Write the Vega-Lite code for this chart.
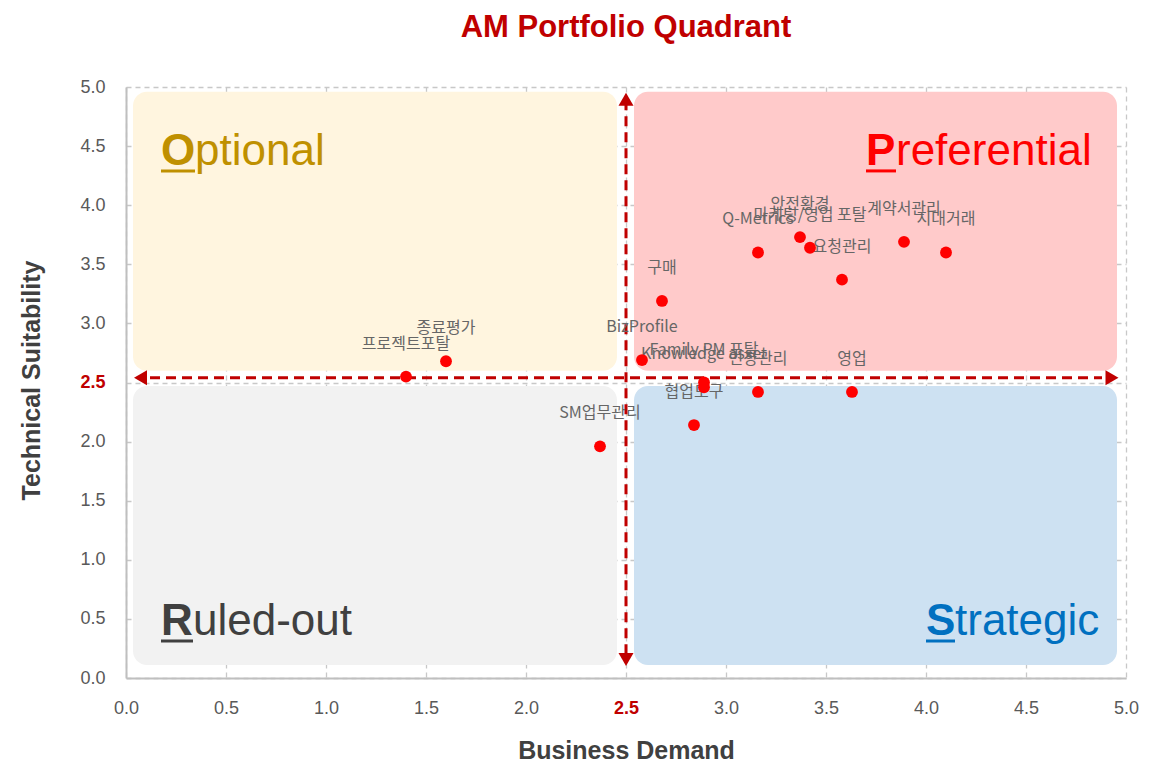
{
  "$schema": "https://vega.github.io/schema/vega-lite/v6.json",
  "width": 1000,
  "height": 591,
  "autosize": "none",
  "padding": {"left": 126, "top": 87, "right": 38, "bottom": 85},
  "background": "white",
  "title": {
    "text": "AM Portfolio Quadrant",
    "font": "Liberation Sans, Arial",
    "fontSize": 31,
    "fontWeight": "bold",
    "color": "#C00000",
    "anchor": "middle",
    "offset": 34
  },
  "datasets": {
    "apps": [
      {"name": "프로젝트포탈", "demand": 1.40, "suit": 2.55},
      {"name": "종료평가", "demand": 1.60, "suit": 2.68},
      {"name": "SM업무관리", "demand": 2.37, "suit": 1.96},
      {"name": "BizProfile", "demand": 2.58, "suit": 2.69},
      {"name": "Family PM 포탈", "demand": 2.89, "suit": 2.50},
      {"name": "Knowledge asset", "demand": 2.89, "suit": 2.46},
      {"name": "협업도구", "demand": 2.84, "suit": 2.14},
      {"name": "인장관리", "demand": 3.16, "suit": 2.42},
      {"name": "영업", "demand": 3.63, "suit": 2.42},
      {"name": "구매", "demand": 2.68, "suit": 3.19},
      {"name": "Q-Metrics", "demand": 3.16, "suit": 3.60},
      {"name": "안전환경", "demand": 3.37, "suit": 3.73},
      {"name": "마케팅/영업 포탈", "demand": 3.42, "suit": 3.64},
      {"name": "요청관리", "demand": 3.58, "suit": 3.37},
      {"name": "계약서관리", "demand": 3.89, "suit": 3.69},
      {"name": "지대거래", "demand": 4.10, "suit": 3.60}
    ],
    "quadrants": [
      {"quadrant": "Optional", "x1": 0.035, "x2": 2.455, "y1": 2.60, "y2": 4.96, "letter": "O", "rest": "ptional", "lx": 0.175, "rx": 0.345, "ly": 4.34, "uy": 4.29},
      {"quadrant": "Preferential", "x1": 2.54, "x2": 4.955, "y1": 2.60, "y2": 4.96, "letter": "P", "rest": "referential", "lx": 3.70, "rx": 3.85, "ly": 4.34, "uy": 4.29},
      {"quadrant": "Ruled-out", "x1": 0.035, "x2": 2.455, "y1": 0.11, "y2": 2.47, "letter": "R", "rest": "uled-out", "lx": 0.175, "rx": 0.335, "ly": 0.364, "uy": 0.313},
      {"quadrant": "Strategic", "x1": 2.54, "x2": 4.955, "y1": 0.11, "y2": 2.47, "letter": "S", "rest": "trategic", "lx": 4.0, "rx": 4.145, "ly": 0.364, "uy": 0.313}
    ]
  },
  "layer": [
    {
      "data": {"name": "quadrants"},
      "mark": {"type": "rect", "cornerRadius": 14},
      "encoding": {
        "x": {"field": "x1", "type": "quantitative", "scale": {"domain": [0, 5], "nice": false},
          "axis": {"title": "Business Demand", "values": [0, 0.5, 1, 1.5, 2, 2.5, 3, 3.5, 4, 4.5, 5], "format": ".1f",
            "labelColor": {"condition": {"test": "datum.value === 2.5", "value": "#C00000"}, "value": "#595959"},
            "labelFontWeight": {"condition": {"test": "datum.value === 2.5", "value": "bold"}, "value": "normal"},
            "labelFlush": false,
            "labelPadding": 21, "titleX": 500, "titleY": 80, "titleBaseline": "alphabetic", "titleAnchor": "middle"}},
        "x2": {"field": "x2"},
        "y": {"field": "y1", "type": "quantitative", "scale": {"domain": [0, 5], "nice": false},
          "axis": {"title": "Technical Suitability", "values": [0, 0.5, 1, 1.5, 2, 2.5, 3, 3.5, 4, 4.5, 5], "format": ".1f",
            "labelColor": {"condition": {"test": "datum.value === 2.5", "value": "#C00000"}, "value": "#595959"},
            "labelFontWeight": {"condition": {"test": "datum.value === 2.5", "value": "bold"}, "value": "normal"},
            "labelFlush": false,
            "labelPadding": 21, "titleX": -95, "titleY": 293, "titleAngle": -90, "titleBaseline": "middle", "titleAlign": "center"}},
        "y2": {"field": "y2"},
        "fill": {"field": "quadrant", "type": "nominal", "legend": null,
          "scale": {"domain": ["Optional", "Preferential", "Ruled-out", "Strategic"], "range": ["#FFF5DF", "#FFCACA", "#F2F2F2", "#CDE1F2"]}}
      }
    },
    {
      "data": {"name": "quadrants"},
      "mark": {"type": "text", "align": "left", "baseline": "alphabetic", "fontSize": 44, "fontWeight": "bold", "font": "Liberation Sans, Arial"},
      "encoding": {
        "x": {"field": "lx", "type": "quantitative"},
        "y": {"field": "ly", "type": "quantitative"},
        "text": {"field": "letter"},
        "color": {"field": "quadrant", "type": "nominal", "legend": null,
          "scale": {"domain": ["Optional", "Preferential", "Ruled-out", "Strategic"], "range": ["#BF9000", "#FF0000", "#404040", "#0070C0"]}}
      }
    },
    {
      "data": {"name": "quadrants"},
      "mark": {"type": "text", "align": "left", "baseline": "alphabetic", "fontSize": 44, "fontWeight": "normal", "font": "Liberation Sans, Arial"},
      "encoding": {
        "x": {"field": "rx", "type": "quantitative"},
        "y": {"field": "ly", "type": "quantitative"},
        "text": {"field": "rest"},
        "color": {"field": "quadrant", "type": "nominal", "legend": null}
      }
    },
    {
      "data": {"name": "quadrants"},
      "mark": {"type": "rule", "strokeWidth": 3},
      "encoding": {
        "x": {"field": "lx", "type": "quantitative"},
        "x2": {"field": "rx"},
        "y": {"field": "uy", "type": "quantitative"},
        "color": {"field": "quadrant", "type": "nominal", "legend": null}
      }
    },
    {
      "data": {"values": [{"x": 2.5, "ya": 0.2, "yb": 4.85}]},
      "mark": {"type": "rule", "color": "#C00000", "strokeWidth": 3, "strokeDash": [10, 6]},
      "encoding": {
        "x": {"field": "x", "type": "quantitative"},
        "y": {"field": "ya", "type": "quantitative"},
        "y2": {"field": "yb"}
      }
    },
    {
      "data": {"values": [{"y": 2.54, "xa": 0.12, "xb": 4.88}]},
      "mark": {"type": "rule", "color": "#C00000", "strokeWidth": 3, "strokeDash": [10, 6]},
      "encoding": {
        "y": {"field": "y", "type": "quantitative"},
        "x": {"field": "xa", "type": "quantitative"},
        "x2": {"field": "xb"}
      }
    },
    {
      "data": {"values": [{"x": 2.5, "y": 4.897}]},
      "mark": {"type": "point", "shape": "triangle-up", "filled": true, "size": 225, "color": "#C00000", "opacity": 1},
      "encoding": {"x": {"field": "x", "type": "quantitative"}, "y": {"field": "y", "type": "quantitative"}}
    },
    {
      "data": {"values": [{"x": 2.5, "y": 0.157}]},
      "mark": {"type": "point", "shape": "triangle-down", "filled": true, "size": 225, "color": "#C00000", "opacity": 1},
      "encoding": {"x": {"field": "x", "type": "quantitative"}, "y": {"field": "y", "type": "quantitative"}}
    },
    {
      "data": {"values": [{"x": 0.0725, "y": 2.54}]},
      "mark": {"type": "point", "shape": "triangle-left", "filled": true, "size": 225, "color": "#C00000", "opacity": 1},
      "encoding": {"x": {"field": "x", "type": "quantitative"}, "y": {"field": "y", "type": "quantitative"}}
    },
    {
      "data": {"values": [{"x": 4.93, "y": 2.54}]},
      "mark": {"type": "point", "shape": "triangle-right", "filled": true, "size": 225, "color": "#C00000", "opacity": 1},
      "encoding": {"x": {"field": "x", "type": "quantitative"}, "y": {"field": "y", "type": "quantitative"}}
    },
    {
      "data": {"name": "apps"},
      "mark": {"type": "text", "baseline": "middle", "align": "center", "dy": -33, "fontSize": 16, "font": "Noto Sans CJK KR", "color": "#666666"},
      "encoding": {
        "x": {"field": "demand", "type": "quantitative"},
        "y": {"field": "suit", "type": "quantitative"},
        "text": {"field": "name"}
      }
    },
    {
      "data": {"name": "apps"},
      "mark": {"type": "circle", "size": 140, "color": "#FF0000", "opacity": 1},
      "encoding": {
        "x": {"field": "demand", "type": "quantitative"},
        "y": {"field": "suit", "type": "quantitative"},
        "tooltip": [{"field": "name"}, {"field": "demand"}, {"field": "suit"}]
      }
    }
  ],
  "config": {
    "view": {"stroke": null},
    "axis": {
      "zindex": 1,
      "grid": true,
      "gridColor": "#C8C8C8",
      "gridDash": [5, 4],
      "gridWidth": 1.3,
      "domainColor": "#BFBFBF",
      "domainWidth": 2,
      "ticks": false,
      "labelFont": "Liberation Sans, Arial",
      "labelFontSize": 18,
      "titleFont": "Liberation Sans, Arial",
      "titleFontSize": 25,
      "titleFontWeight": "bold",
      "titleColor": "#404040"
    }
  }
}
